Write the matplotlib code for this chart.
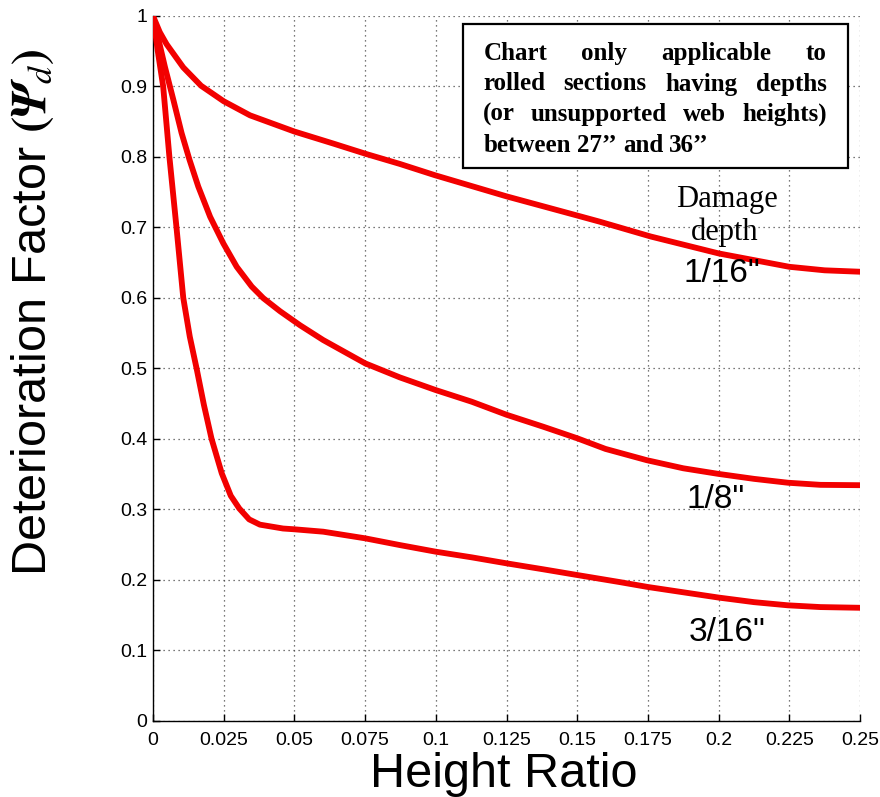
import matplotlib
matplotlib.use("Agg")
import matplotlib.pyplot as plt
from matplotlib.patches import Rectangle

plt.rcParams['font.family'] = ['Liberation Sans', 'DejaVu Sans']
plt.rcParams['mathtext.fontset'] = 'stix'

# ---- data ----
x_1_16 = [0, 0.0024, 0.0048, 0.0107, 0.017, 0.025, 0.0343, 0.05, 0.0637, 0.0755, 0.0873,
          0.0997, 0.125, 0.1498, 0.158, 0.176, 0.2, 0.225, 0.2375, 0.25]
y_1_16 = [1.0, 0.977, 0.960, 0.927, 0.901, 0.879, 0.859, 0.836, 0.819, 0.804, 0.790,
          0.774, 0.744, 0.717, 0.708, 0.687, 0.663, 0.644, 0.639, 0.637]

x_1_8 = [0, 0.0042, 0.0072, 0.0101, 0.0129, 0.016, 0.0202, 0.0249, 0.0296, 0.0349,
         0.039, 0.0449, 0.052, 0.0602, 0.075, 0.0873, 0.1, 0.1127, 0.125, 0.138,
         0.15, 0.16, 0.1746, 0.1875, 0.2, 0.2125, 0.2245, 0.236, 0.25]
y_1_8 = [1.0, 0.928, 0.881, 0.834, 0.796, 0.758, 0.715, 0.677, 0.644, 0.616,
         0.5995, 0.581, 0.561, 0.540, 0.507, 0.487, 0.469, 0.4525, 0.434, 0.417,
         0.4006, 0.3855, 0.3695, 0.358, 0.350, 0.343, 0.3375, 0.3345, 0.334]

x_3_16 = [0, 0.0017, 0.0036, 0.0058, 0.0083, 0.0107, 0.0130, 0.0154, 0.0180, 0.0207,
          0.0243, 0.0275, 0.0305, 0.0340, 0.0378, 0.046, 0.05, 0.0602, 0.075, 0.0873,
          0.1, 0.1127, 0.125, 0.138, 0.15, 0.165, 0.175, 0.2, 0.2125, 0.2245, 0.236, 0.25]
y_3_16 = [1.0, 0.95, 0.90, 0.80, 0.70, 0.60, 0.545, 0.50, 0.448, 0.40,
          0.351, 0.319, 0.301, 0.2855, 0.278, 0.2725, 0.2714, 0.268, 0.2586, 0.249,
          0.2396, 0.2316, 0.2231, 0.2146, 0.2065, 0.1965, 0.1895, 0.1745, 0.168, 0.1635, 0.161, 0.160]

x_ticks = [0, 0.025, 0.05, 0.075, 0.1, 0.125, 0.15, 0.175, 0.2, 0.225, 0.25]
x_tick_labels = ['0', '0.025', '0.05', '0.075', '0.1', '0.125', '0.15', '0.175', '0.2', '0.225', '0.25']
y_ticks = [0, 0.1, 0.2, 0.3, 0.4, 0.5, 0.6, 0.7, 0.8, 0.9, 1.0]
y_tick_labels = ['0', '0.1', '0.2', '0.3', '0.4', '0.5', '0.6', '0.7', '0.8', '0.9', '1']

curve_labels = ['1/16"', '1/8"', '3/16"']
note_lines = ["Chart only applicable to",
              "rolled sections having depths",
              "(or unsupported web heights)",
              "between 27\u2019\u2019 and 36\u2019\u2019"]

# ---- figure ----
W, H = 880, 797
fig = plt.figure(figsize=(W / 100, H / 100), dpi=100)
ax = fig.add_axes([153 / W, 1 - 720.5 / H, 707 / W, 704.5 / H])

red = '#f20000'
for xs, ys in [(x_1_16, y_1_16), (x_1_8, y_1_8), (x_3_16, y_3_16)]:
    ax.plot(xs, ys, color=red, lw=4.2, solid_capstyle='round', solid_joinstyle='round', zorder=3)

ax.set_xlim(0, 0.25)
ax.set_ylim(0, 1)
ax.set_xticks(x_ticks)
ax.set_xticklabels(x_tick_labels)
ax.set_yticks(y_ticks)
ax.set_yticklabels(y_tick_labels)
ax.tick_params(direction='in', length=5, width=1, labelsize=14, colors='black')
ax.tick_params(axis='x', pad=8)
ax.tick_params(axis='y', pad=4)
for s in ['top', 'right']:
    ax.spines[s].set_visible(False)
for s in ['left', 'bottom']:
    ax.spines[s].set_linewidth(1.0)
ax.grid(True, color='0.3', linestyle=(0, (1, 3)), linewidth=0.9)
ax.set_axisbelow(True)

ax.set_xlabel('Height Ratio', fontsize=35)
ax.xaxis.set_label_coords(0.496, -0.045)
ax.xaxis.label.set_va('top')
ax.set_ylabel('Deterioration Factor ' + r'$\mathbf{(}\mathbfit{\Psi}_{d}\mathbf{)}$', fontsize=35)
ax.yaxis.set_label_coords(-0.170, 0.579)
ax.yaxis.label.set_va('center')

# curve labels
ax.text(0.203, 0.740, 'Damage', fontsize=22, family='Liberation Serif', ha='center', va='center')
ax.text(0.2023, 0.693, 'depth', fontsize=22, family='Liberation Serif', ha='center', va='center')
label_pos = [(0.2012, 0.635), (0.199, 0.313), (0.203, 0.1256)]
for lab, (lx, ly) in zip(curve_labels, label_pos):
    ax.text(lx, ly, lab, fontsize=24, ha='center', va='center')

# note box (figure pixel coordinates converted to fractions)
bx0, by0, bx1, by1 = 462.7, 24, 848.3, 168.3
fig.patches.append(Rectangle((bx0 / W, 1 - by1 / H), (bx1 - bx0) / W, (by1 - by0) / H,
                             transform=fig.transFigure, facecolor='white',
                             edgecolor='black', linewidth=1.6, zorder=5))
renderer = fig.canvas.get_renderer()
tx0, tx1 = 483.3, 826.7
baselines = [60, 90.5, 121, 151.5]
for i, (line, bl) in enumerate(zip(note_lines, baselines)):
    words = line.split(' ')
    txts = []
    for w in words:
        t = fig.text(0, 1 - bl / H, w, fontsize=18, family='Liberation Serif',
                     weight='bold', ha='left', va='baseline', zorder=6)
        txts.append(t)
    widths = [t.get_window_extent(renderer).width for t in txts]
    if i < len(note_lines) - 1 and len(words) > 1:
        gap = (tx1 - tx0 - sum(widths)) / (len(words) - 1)
    else:
        sp = fig.text(0, 0, 'a b', fontsize=18, family='Liberation Serif', weight='bold')
        sp2 = fig.text(0, 0, 'ab', fontsize=18, family='Liberation Serif', weight='bold')
        gap = sp.get_window_extent(renderer).width - sp2.get_window_extent(renderer).width
        sp.remove(); sp2.remove()
    xc = tx0
    for t, wdt in zip(txts, widths):
        t.set_x(xc / W)
        xc += wdt + gap

fig.savefig('out.png', dpi=100)
